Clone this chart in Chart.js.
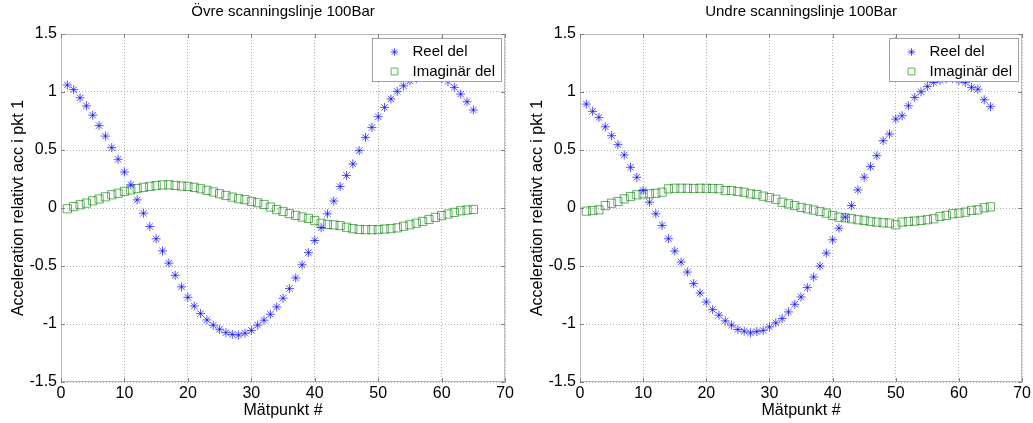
<!DOCTYPE html>
<html>
<head>
<meta charset="utf-8">
<script src="https://cdn.jsdelivr.net/npm/chart.js@4.4.0/dist/chart.umd.min.js"></script>
<style>
    html, body { margin: 0; padding: 0; background: #fff; }
    #wrap { position: relative; width: 1033px; height: 423px; }
    #wrap canvas { position: absolute; top: 0; }
</style>
</head>
<body>
<div id="wrap">
    <canvas id="grafico1" width="516" height="423" style="left:0"></canvas>
    <canvas id="grafico2" width="514" height="423" style="left:519px"></canvas>
</div>
<script>
// Mätpunkter (x)
const matpunkt = [1, 2, 3, 4, 5, 6, 7, 8, 9, 10, 11, 12, 13, 14, 15, 16, 17, 18, 19, 20,
    21, 22, 23, 24, 25, 26, 27, 28, 29, 30, 31, 32, 33, 34, 35, 36, 37, 38, 39, 40,
    41, 42, 43, 44, 45, 46, 47, 48, 49, 50, 51, 52, 53, 54, 55, 56, 57, 58, 59, 60,
    61, 62, 63, 64, 65];

// Övre scanningslinje
const ovreReel = [1.06, 1.02, 0.95, 0.88, 0.80, 0.71, 0.62, 0.52, 0.42, 0.31,
    0.20, 0.07, -0.045, -0.16, -0.265, -0.37, -0.475, -0.58, -0.68, -0.77,
    -0.845, -0.91, -0.965, -1.01, -1.045, -1.075, -1.09, -1.095, -1.08, -1.055,
    -1.01, -0.967, -0.916, -0.853, -0.778, -0.695, -0.603, -0.49, -0.385, -0.28,
    -0.17, -0.05, 0.06, 0.185, 0.28, 0.38, 0.494, 0.609, 0.695, 0.787,
    0.867, 0.94, 1.005, 1.053, 1.095, 1.115, 1.13, 1.135, 1.13, 1.115,
    1.09, 1.04, 0.982, 0.916, 0.845];
const ovreImag = [-0.007, 0.012, 0.028, 0.042, 0.062, 0.078, 0.096, 0.114, 0.127, 0.143,
    0.156, 0.168, 0.178, 0.186, 0.193, 0.199, 0.200, 0.195, 0.189, 0.186,
    0.178, 0.166, 0.152, 0.138, 0.123, 0.108, 0.094, 0.080, 0.072, 0.056,
    0.045, 0.030, 0.008, -0.014, -0.03, -0.048, -0.064, -0.078, -0.09, -0.108,
    -0.132, -0.142, -0.146, -0.152, -0.166, -0.178, -0.185, -0.187, -0.187, -0.186,
    -0.181, -0.178, -0.171, -0.157, -0.145, -0.131, -0.116, -0.099, -0.081, -0.066,
    -0.052, -0.038, -0.024, -0.018, -0.012];

// Undre scanningslinje
const undreReel = [0.896, 0.833, 0.781, 0.70, 0.623, 0.546, 0.457, 0.351, 0.265, 0.150,
    0.050, -0.05, -0.150, -0.265, -0.371, -0.466, -0.552, -0.652, -0.733, -0.810,
    -0.876, -0.924, -0.973, -1.010, -1.047, -1.062, -1.076, -1.065, -1.055, -1.025,
    -0.99, -0.953, -0.896, -0.830, -0.767, -0.686, -0.595, -0.500, -0.389, -0.274,
    -0.174, -0.079, 0.021, 0.156, 0.265, 0.357, 0.451, 0.580, 0.638, 0.767,
    0.795, 0.881, 0.953, 1.002, 1.048, 1.082, 1.10, 1.115, 1.115, 1.10,
    1.082, 1.04, 1.024, 0.933, 0.873];
const undreImag = [-0.027, -0.022, -0.016, 0.021, 0.041, 0.056, 0.079, 0.099, 0.114, 0.122,
    0.122, 0.127, 0.136, 0.165, 0.170, 0.170, 0.170, 0.168, 0.170, 0.170,
    0.168, 0.166, 0.150, 0.150, 0.142, 0.136, 0.122, 0.116, 0.102, 0.090,
    0.075, 0.050, 0.036, 0.021, 0.005, -0.007, -0.018, -0.030, -0.044, -0.064,
    -0.079, -0.085, -0.093, -0.101, -0.107, -0.116, -0.122, -0.127, -0.130, -0.145,
    -0.122, -0.116, -0.113, -0.107, -0.101, -0.093, -0.073, -0.064, -0.050, -0.044,
    -0.036, -0.021, -0.016, 0.002, 0.010];

const xTicks = [0, 10, 20, 30, 40, 50, 60, 70];
const yTicks = [-1.5, -1, -0.5, 0, 0.5, 1, 1.5];

const FONTE = "'Liberation Sans', Arial, sans-serif";
const AZUL = 'rgba(0, 0, 255, 0.68)';
const VERDE = 'rgba(0, 128, 0, 0.62)';

// Desenha um marcador (estrela ou quadrado)
function marcador(ctx, tipo, x, y, r) {
    ctx.beginPath();
    if (tipo === 'star') {
        const d = r * Math.SQRT1_2;
        ctx.moveTo(x - r, y); ctx.lineTo(x + r, y);
        ctx.moveTo(x, y - r); ctx.lineTo(x, y + r);
        ctx.moveTo(x - d, y - d); ctx.lineTo(x + d, y + d);
        ctx.moveTo(x - d, y + d); ctx.lineTo(x + d, y - d);
    } else {
        ctx.rect(x - r, y - r, 2 * r, 2 * r);
    }
    ctx.stroke();
}

// Moldura, marcas internas e legenda dentro da área do gráfico
const molduraLegenda = {
    id: 'molduraLegenda',
    afterDatasetsDraw(chart) {
        const { ctx, chartArea: a, scales } = chart;
        ctx.save();
        ctx.setLineDash([]);
        ctx.lineWidth = 1;

        ctx.strokeStyle = '#b8b8b8';
        ctx.strokeRect(a.left + 0.5, a.top + 0.5, a.right - a.left - 1, a.bottom - a.top - 1);

        ctx.strokeStyle = '#808080';
        ctx.beginPath();
        xTicks.forEach(v => {
            const px = Math.round(scales.x.getPixelForValue(v)) + 0.5;
            ctx.moveTo(px, a.top); ctx.lineTo(px, a.top + 4);
            ctx.moveTo(px, a.bottom); ctx.lineTo(px, a.bottom - 4);
        });
        yTicks.forEach(v => {
            const py = Math.round(scales.y.getPixelForValue(v)) + 0.5;
            ctx.moveTo(a.left, py); ctx.lineTo(a.left + 4, py);
            ctx.moveTo(a.right, py); ctx.lineTo(a.right - 4, py);
        });
        ctx.stroke();

        // Legenda
        const w = 129, h = 43;
        const lx = Math.round(a.right - 4 - w) + 0.5;
        const ly = Math.round(a.top + 4) + 0.5;
        ctx.fillStyle = '#fff';
        ctx.fillRect(lx, ly, w, h);
        ctx.strokeStyle = '#a0a0a0';
        ctx.strokeRect(lx, ly, w, h);

        ctx.font = '15px ' + FONTE;
        ctx.textBaseline = 'middle';
        ctx.textAlign = 'left';
        chart.data.datasets.forEach((ds, i) => {
            const yy = ly + 13.5 + i * 19.5;
            ctx.strokeStyle = ds.borderColor;
            marcador(ctx, ds.pointStyle, lx + 22, yy, ds.pointStyle === 'star' ? 3.8 : 3.4);
            ctx.fillStyle = '#000';
            ctx.fillText(ds.label, lx + 40, yy);
        });
        ctx.restore();
    }
};

function pontos(valores) {
    return valores.map((v, i) => ({ x: matpunkt[i], y: v }));
}

function gerarGrafico(id, titulo, reel, imag) {
    const ctx = document.getElementById(id).getContext('2d');
    return new Chart(ctx, {
        type: 'scatter',
        data: {
            datasets: [{
                label: 'Reel del',
                data: pontos(reel),
                pointStyle: 'star',
                pointRadius: 4.5,
                borderColor: AZUL,
                backgroundColor: AZUL,
                borderWidth: 1,
                showLine: false
            }, {
                label: 'Imaginär del',
                data: pontos(imag),
                pointStyle: 'rect',
                pointRadius: 5.8,
                borderColor: VERDE,
                backgroundColor: 'rgba(0,0,0,0)',
                borderWidth: 1,
                showLine: false
            }]
        },
        options: {
            responsive: false,
            animation: false,
            events: [],
            layout: { padding: { left: 0, right: 10, top: 0, bottom: 0 } },
            plugins: {
                legend: { display: false },
                tooltip: { enabled: false },
                title: {
                    display: true,
                    text: titulo,
                    fullSize: false,
                    color: '#000',
                    font: { family: FONTE, size: 15, weight: 'normal' },
                    padding: { top: 3, bottom: 13 }
                }
            },
            scales: {
                x: {
                    type: 'linear',
                    min: 0,
                    max: 70,
                    afterFit: s => { s.height = 41; },
                    afterBuildTicks: s => { s.ticks = xTicks.map(v => ({ value: v })); },
                    ticks: {
                        color: '#000',
                        font: { family: FONTE, size: 16 },
                        padding: 2,
                        maxRotation: 0,
                        callback: v => String(v)
                    },
                    grid: { color: '#b0b0b0', lineWidth: 1, drawTicks: false },
                    border: { display: false, dash: [1, 2] },
                    title: {
                        display: true,
                        text: 'Mätpunkt #',
                        color: '#000',
                        font: { family: FONTE, size: 16 },
                        padding: { top: 0, bottom: 2.4 }
                    }
                },
                y: {
                    type: 'linear',
                    min: -1.5,
                    max: 1.5,
                    afterFit: s => { s.width = 61; },
                    afterBuildTicks: s => { s.ticks = yTicks.map(v => ({ value: v })); },
                    ticks: {
                        color: '#000',
                        font: { family: FONTE, size: 16 },
                        padding: 4,
                        callback: v => String(Math.round(v * 10) / 10)
                    },
                    grid: { color: '#b0b0b0', lineWidth: 1, drawTicks: false },
                    border: { display: false, dash: [1, 2] },
                    title: {
                        display: true,
                        text: 'Acceleration relativt acc i pkt 1',
                        color: '#000',
                        font: { family: FONTE, size: 16 },
                        padding: { top: 9, bottom: 0 }
                    }
                }
            }
        },
        plugins: [molduraLegenda]
    });
}

gerarGrafico('grafico1', 'Övre scanningslinje 100Bar', ovreReel, ovreImag);
gerarGrafico('grafico2', 'Undre scanningslinje 100Bar', undreReel, undreImag);
</script>
</body>
</html>
